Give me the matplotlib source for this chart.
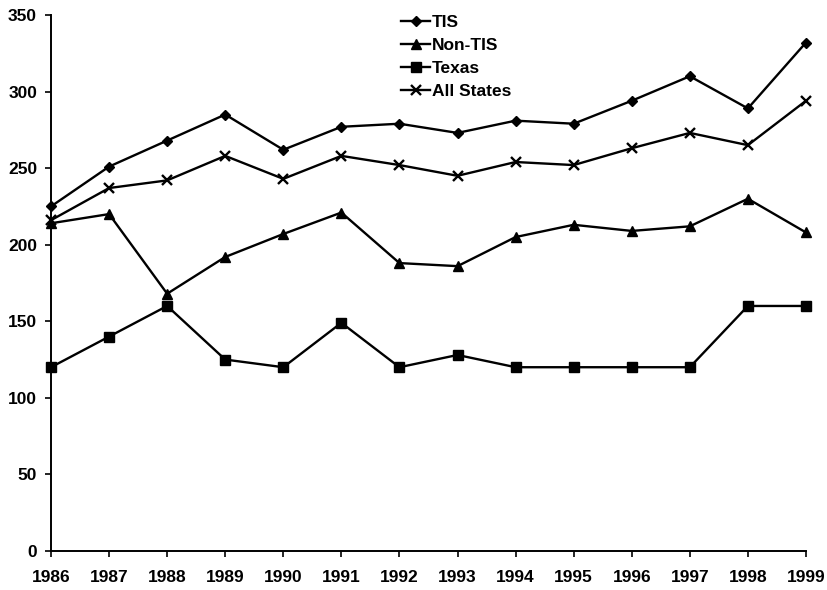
import matplotlib.pyplot as plt

plt.rcParams['font.family'] = ['Liberation Sans', 'DejaVu Sans']

# Datos
years = [1986, 1987, 1988, 1989, 1990, 1991, 1992, 1993, 1994, 1995, 1996, 1997, 1998, 1999]
tis = [225, 251, 268, 285, 262, 277, 279, 273, 281, 279, 294, 310, 289, 332]
non_tis = [214, 220, 168, 192, 207, 221, 188, 186, 205, 213, 209, 212, 230, 208]
texas = [120, 140, 160, 125, 120, 149, 120, 128, 120, 120, 120, 120, 160, 160]
all_states = [216, 237, 242, 258, 243, 258, 252, 245, 254, 252, 263, 273, 265, 294]

fig = plt.figure(figsize=(8.28, 5.90), dpi=100)
ax = fig.add_axes([0.0616, 0.0661, 0.9118, 0.9085])

estilo = dict(color='black', linewidth=1.7, clip_on=False)
ax.plot(years, tis, marker='D', markersize=5.5, label='TIS', **estilo)
ax.plot(years, non_tis, marker='^', markersize=7, label='Non-TIS', **estilo)
ax.plot(years, texas, marker='s', markersize=6.5, label='Texas', **estilo)
ax.plot(years, all_states, marker='x', markersize=7, markeredgewidth=1.7,
        label='All States', **estilo)

ax.set_xlim(1986, 1999)
ax.set_ylim(0, 350)
ax.set_xticks(years)
ax.set_xticklabels([str(y) for y in years])
ax.set_yticks(range(0, 351, 50))

for lado in ['top', 'right']:
    ax.spines[lado].set_visible(False)
for lado in ['left', 'bottom']:
    ax.spines[lado].set_linewidth(1.4)

ax.tick_params(axis='both', labelsize=12.5, width=1.2, length=4, direction='out')
ax.tick_params(axis='x', pad=10)
ax.tick_params(axis='y', pad=6)
for lab in ax.get_xticklabels() + ax.get_yticklabels():
    lab.set_fontweight('bold')

ley = ax.legend(loc='upper left', bbox_to_anchor=(0.484, 0.975),
                bbox_transform=fig.transFigure, frameon=False,
                handlelength=1.7, handletextpad=0.1, labelspacing=0.45,
                borderpad=0, borderaxespad=0,
                prop={'size': 12.5, 'weight': 'bold'})

fig.savefig('out.png', dpi=100)
